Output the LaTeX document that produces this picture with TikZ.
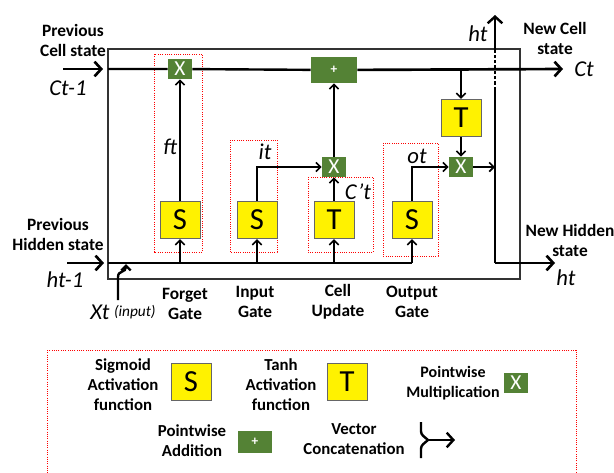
\documentclass[tikz,border=0pt]{standalone}
\usepackage{fontspec}
\setmainfont{Carlito}
\usetikzlibrary{arrows.meta, positioning, calc}
\definecolor{opgreen}{RGB}{84,130,53}

\begin{document}
\begin{tikzpicture}[x=0.75pt, y=-0.75pt,
    sbox/.style={draw=black!60, fill=yellow, line width=0.7pt, minimum width=30pt, minimum height=28pt, inner sep=0pt, font=\fontsize{23}{25}\selectfont},
    gbox/.style={fill=opgreen, minimum width=18pt, minimum height=15pt, inner sep=0pt, text=white, font=\fontsize{16}{18}\selectfont},
    addbox/.style={gbox, minimum width=34.5pt, minimum height=19.5pt, font=\fontsize{10}{12}\selectfont\bfseries},
    gatebox/.style={draw=red, densely dotted, line width=0.7pt},
    lbl/.style={font=\fontsize{13}{15}\selectfont\bfseries, align=center},
    legtxt/.style={font=\fontsize{12.6}{15}\selectfont\bfseries, align=center},
    var/.style={font=\fontsize{17}{19}\selectfont\itshape, inner sep=0pt},
    arr/.style={-{Straight Barb[length=3.5pt,width=7pt]}, line width=1.2pt},
    bigarr/.style={-{Straight Barb[length=5pt,width=11pt]}, line width=2pt}]
    \useasboundingbox (0,0) rectangle (614,472);

    % LSTM cell
    \draw[line width=1.1pt, black!80] (108,49) rectangle (520,279);
    \coordinate (cin) at (108,69);
    \coordinate (cout) at (563,69);
    \coordinate (hin) at (108,263);
    \coordinate (hend) at (412,263);
    \coordinate (hup) at (495,15);
    \coordinate (hdown) at (495,263);
    \coordinate (hout) at (555,263);

    % gates
    \draw[gatebox] (154,54) rectangle (202,252);
    \draw[gatebox] (230,140) rectangle (277,252);
    \draw[gatebox] (308,177) rectangle (373,252);
    \draw[gatebox] (383,143) rectangle (438,256);
    \node[sbox] (sf) at (180,220) {S};
    \node[sbox] (si) at (257,220) {S};
    \node[sbox] (tc) at (334,220) {T};
    \node[sbox] (so) at (412,220) {S};
    \node[gbox] (xf) at (180,69) {X};
    \node[gbox] (xc) at (334,167) {X};
    \node[addbox] (add) at (334,70) {+};
    \node[sbox] (tco) at (461,118) {T};
    \node[gbox] (xo) at (461,167) {X};

    % cell state
    \draw[bigarr] (63,69) -- (103,69);
    \draw[line width=1.8pt] (cin) -- (xf) -- (add);
    \draw[bigarr] (add) -- (cout);
    \draw[arr] (sf) -- (xf);
    \draw[arr] (xc) -- (add);
    \draw[arr] (tc) -- (xc);
    \draw[arr] (si.north) |- (xc.west);
    \draw[arr] (so.north) |- (xo.west);
    \draw[arr] (tco.north |- cin) -- (tco.north);
    \draw[arr] (tco) -- (xo);
    \draw[arr] (xo.east) -- (xo.east -| hup);

    % hidden state
    \draw[bigarr] (67,263) -- (104,263);
    \draw[line width=1.6pt] (hin) -- (hend);
    \foreach \g in {sf,si,tc,so}
        \draw[arr] (\g.south |- hin) -- (\g.south);
    \draw[arr, line width=1.8pt] (118,300) -- (118,277) .. controls (118,270) and (126,273) .. (126,264);
    \draw[line width=1.8pt] (hdown) -- (495,90);
    \draw[line width=1.8pt, dash pattern=on 2.5pt off 1.5pt] (495,90) -- (495,50);
    \draw[bigarr, line width=1.8pt] (495,50) -- (hup);
    \draw[bigarr] (hdown) -- (hout);

    % labels
    \node[lbl] (prevc) at (73,40) {Previous\\Cell state};
    \node[lbl] (prevh) at (58,234) {Previous\\Hidden state};
    \node[lbl] (newc) at (555,38) {New Cell\\state};
    \node[lbl] (newh) at (570,240) {New Hidden\\state};
    \node[lbl] (lforget) at (185,304) {Forget\\Gate};
    \node[lbl] (linput) at (255,302) {Input\\Gate};
    \node[lbl] (lcell) at (338,302) {Cell\\Update};
    \node[lbl] (loutput) at (412,302) {Output\\Gate};
    \node[var] (cprev) at (68,88) {Ct-1};
    \node[var] (hprev) at (65,280) {ht-1};
    \node[var] (xt) at (100,312) {Xt};
    \node[font=\fontsize{11.5}{13}\selectfont\itshape, inner sep=0pt, right=3pt of xt] (xin) {(input)};
    \node[var] (ft) at (170,147) {ft};
    \node[var] (it) at (265,152) {it};
    \node[var] (ot) at (417,156) {ot};
    \node[var] (cbar) at (358,192) {C’t};
    \node[var] (htop) at (478,34) {ht};
    \node[var] (ct) at (584,69) {Ct};
    \node[var] (hbot) at (566,278) {ht};

    % legend
    \draw[gatebox] (47,350) rectangle (576,480);
    \node[legtxt] (lsig) at (123,385) {Sigmoid\\Activation\\function};
    \node[sbox] (ls) at (191,382) {S};
    \node[legtxt] (ltanh) at (281,385) {Tanh\\Activation\\function};
    \node[sbox] (lt) at (347,382) {T};
    \node[legtxt, font=\fontsize{12}{15}\selectfont\bfseries] (lmul) at (453,383) {Pointwise\\Multiplication};
    \node[gbox] (lx) at (516,383) {X};
    \node[legtxt] (ladd) at (192,441) {Pointwise\\Addition};
    \node[addbox, minimum width=25.5pt, minimum height=16.5pt] (lp) at (255,442) {+};
    \node[legtxt] (lcat) at (354,439) {Vector\\Concatenation};
    \coordinate (cat) at (428,440);
    \draw[line width=1.8pt, rounded corners=2pt] (421,422) -- (421,434) -- (cat);
    \draw[line width=1.8pt, rounded corners=2pt] (421,458) -- (421,446) -- (cat);
    \draw[bigarr, line width=1.8pt] (cat) -- (455,440);
\end{tikzpicture}
\end{document}
